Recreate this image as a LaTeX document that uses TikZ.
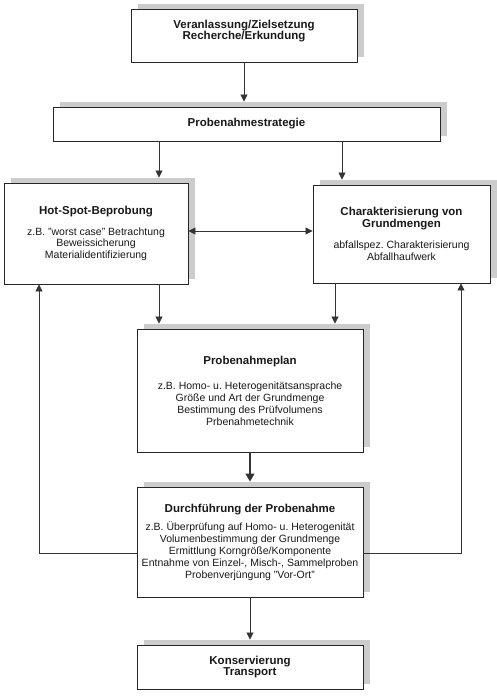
\documentclass[tikz,border=0pt]{standalone}
\usepackage{fontspec}
\setmainfont{Liberation Sans}
\usetikzlibrary{shadows,arrows.meta,calc}
\newcommand\ttlfont{\fontsize{11.5}{11.8}\selectfont\bfseries}
\frenchspacing
\begin{document}
\frenchspacing
\begin{tikzpicture}[x=1pt,y=-1pt,
  box/.style={draw=black!85, line width=0.9pt, fill=white, rectangle, inner sep=0pt,
    align=center, text=black!90, font=\fontsize{10.5}{11.8}\selectfont\frenchspacing,
    drop shadow={shadow xshift=6.5pt, shadow yshift=5pt, opacity=1, fill=black!20}},
  ttl/.style={inner sep=0pt, align=center, text=black!90, font=\ttlfont},
  arr/.style={draw=black!80, line width=0.8pt, -{Triangle[width=7pt,length=7pt]}},
  arrbig/.style={draw=black!80, line width=1.3pt, -{Triangle[width=9pt,length=8pt]}},
  arrboth/.style={draw=black!80, line width=0.8pt, {Triangle[width=7pt,length=7pt]}-{Triangle[width=7pt,length=7pt]}},
  plain/.style={draw=black!80, line width=0.8pt}
]
\useasboundingbox (0,0) rectangle (497,696);

% boxes
\node[box, minimum width=226pt, minimum height=53pt] (b1) at (244,35.5) {};
\node[ttl] (t1) at (244,31) {Veranlassung/Zielsetzung\\Recherche/Erkundung};

\node[box, minimum width=387pt, minimum height=34pt] (b2) at (246.5,124) {{\ttlfont Probenahmestrategie}};

\node[box, minimum width=184pt, minimum height=101pt] (b3) at (96,233.5)
  {{\ttlfont Hot-Spot-Beprobung}\\[9pt]z.B. "worst case" Betrachtung\\Beweissicherung\\Materialidentifizierung};

\node[box, minimum width=177pt, minimum height=98pt] (b4) at (401.5,234)
  {{\ttlfont Charakterisierung von}\\{\ttlfont Grundmengen}\\[9pt]abfallspez. Charakterisierung\\Abfallhaufwerk};

\node[box, minimum width=226pt, minimum height=123pt] (b5) at (250,390.5)
  {{\ttlfont Probenahmeplan}\\[14pt]z.B. Homo- u. Heterogenitätsansprache\\Größe und Art der Grundmenge\\Bestimmung des Prüfvolumens\\Prbenahmetechnik};

\node[box, minimum width=226pt, minimum height=110pt] (b6) at (250,542)
  {{\ttlfont Durchführung der Probenahme}\\[7pt]z.B. Überprüfung auf Homo- u. Heterogenität\\Volumenbestimmung der Grundmenge\\Ermittlung Korngröße/Komponente\\Entnahme von Einzel-, Misch-, Sammelproben\\Probenverjüngung "Vor-Ort"};

\node[box, minimum width=226pt, minimum height=44pt] (b7) at (250,667)
  {{\ttlfont Konservierung}\\{\ttlfont Transport}};

% helper coordinates
\coordinate (xA) at (244,0);
\coordinate (xL) at (159,0);
\coordinate (xR) at (342,0);
\coordinate (xR2) at (335,0);
\coordinate (xC) at (250,0);
\coordinate (xFL) at (39,0);
\coordinate (xFR) at (461,0);
\coordinate (yM) at (0,231);
\coordinate (yB) at (0,553);
\coordinate (cL) at (39,553);
\coordinate (cR) at (461,553);

% connectors
\draw[arr] (b1.south -| xA) -- ([yshift=5pt]b2.north -| xA);
\draw[arr] (b2.south -| xL) -- ([yshift=5pt]b3.north -| xL);
\draw[arr] (b2.south -| xR) -- ([yshift=5pt]b4.north -| xR);
\draw[arrboth] (b3.east |- yM) -- (b4.west |- yM);
\draw[arr] (b3.south -| xL) -- ([yshift=5pt]b5.north -| xL);
\draw[arr] (b4.south -| xR2) -- ([yshift=5pt]b5.north -| xR2);
\draw[arrbig] (b5.south -| xC) -- ([yshift=5pt]b6.north -| xC);
\draw[arr] (b6.south -| xC) -- ([yshift=5pt]b7.north -| xC);
\draw[arr] (b6.west |- yB) -- (cL) -- (b3.south -| xFL);
\draw[arr] (b6.east |- yB) -- (cR) -- (b4.south -| xFR);
\end{tikzpicture}
\end{document}
